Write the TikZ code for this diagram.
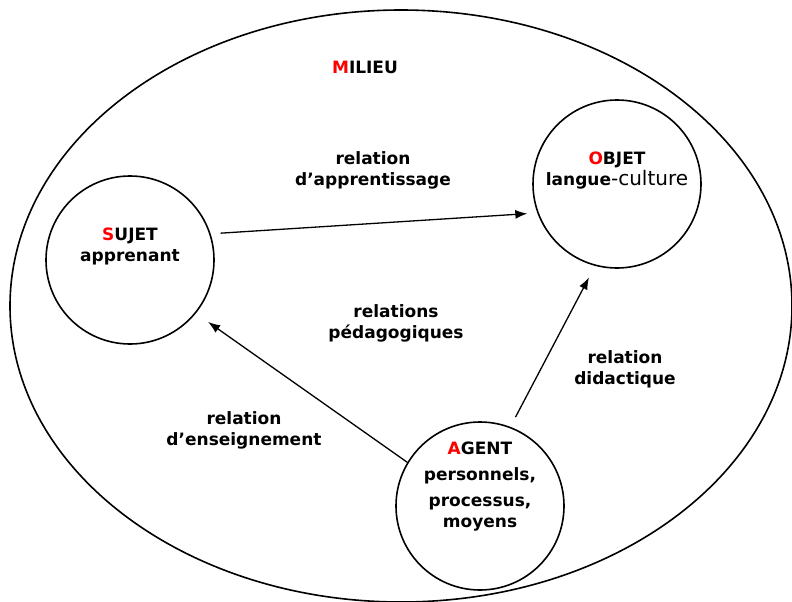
\documentclass[tikz,border=0pt]{standalone}
\usepackage{fontspec}
\setmainfont{DejaVu Sans}
\usetikzlibrary{arrows.meta}
\begin{document}
\begin{tikzpicture}[x=1pt,y=-1pt,
  rond/.style={draw,circle,line width=1.6pt,minimum size=168pt,inner sep=0pt},
  lbl/.style={align=center,inner sep=0pt,font=\fontsize{17}{21}\selectfont\bfseries},
  fleche/.style={line width=1.3pt,-{Latex[length=12pt,width=9pt]}}]
  \useasboundingbox (0,0) rectangle (792,602);
  % milieu
  \draw[line width=1.6pt] (401,306) ellipse [x radius=391, y radius=296];
  \node[lbl] (milieu) at (365,67) {\textcolor{red}{M}ILIEU};
  % les trois poles
  \node[rond] (sujet) at (130,260) {};
  \node[rond] (objet) at (617,184) {};
  \node[rond] (agent) at (480,506) {};
  \node[lbl] (sujetlbl) at (130,246) {\textcolor{red}{S}UJET\\apprenant};
  \node[lbl] (objetlbl) at (617,171) {\textcolor{red}{O}BJET\\langue{\mdseries\fontsize{20}{21}\selectfont-culture}};
  \node[lbl] (agentlbl) at (480,487) {\textcolor{red}{A}GENT\\[5pt]personnels,\\[5pt]processus,\\moyens};
  % relations
  \draw[fleche,shorten <=10pt,shorten >=10pt] (sujet.18) -- (objet.200);
  \draw[fleche,shorten <=11pt,shorten >=13pt] (agent.69) -- (objet.255);
  \draw[fleche,shorten >=15pt] (agent.149) -- (sujet.-39);
  \node[lbl] (apprent) at (373,170) {relation\\d’apprentissage};
  \node[lbl] (pedago) at (396,323) {relations\\pédagogiques};
  \node[lbl] (didact) at (625,369) {relation\\didactique};
  \node[lbl] (enseign) at (244,430) {relation\\d’enseignement};
\end{tikzpicture}
\end{document}
